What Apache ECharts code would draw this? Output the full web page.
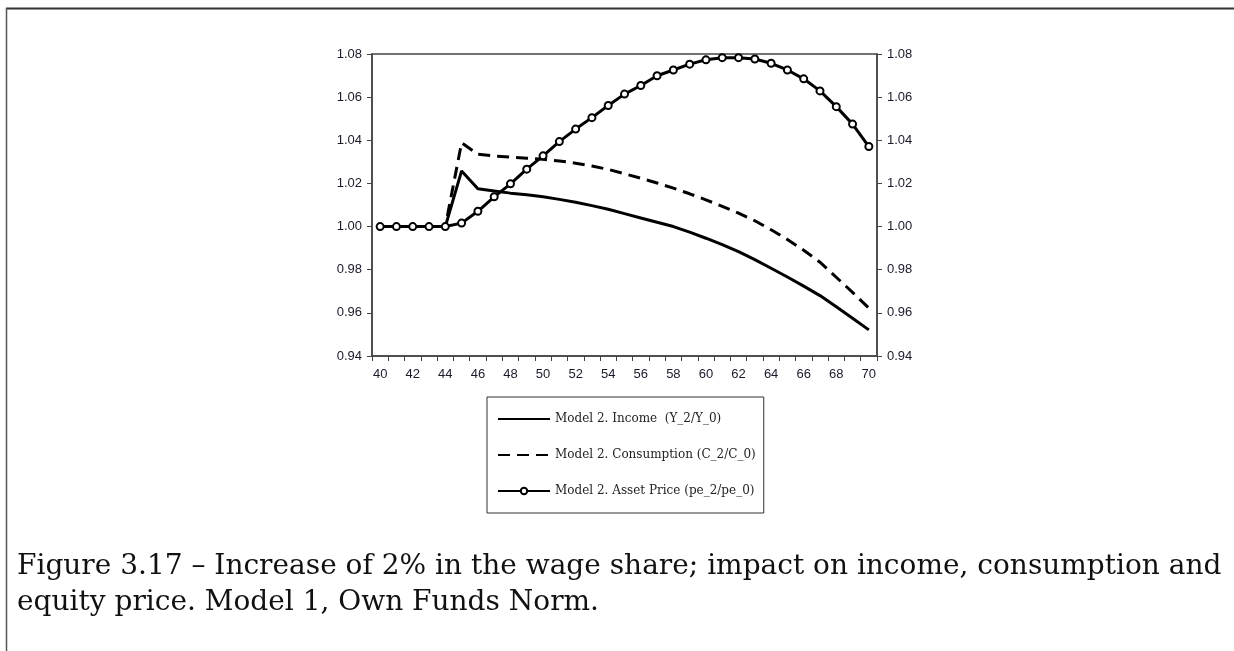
<!DOCTYPE html>
<html lang="en">
<head>
        <meta charset="UTF-8">
        <title>Figure 3.17</title>
        <style>
                html, body { margin: 0; padding: 0; background: #fff; }
                #chart { width: 1234px; height: 651px; }
        </style>
</head>
<body>
<div id="chart"></div>

<script src="https://cdn.jsdelivr.net/npm/echarts@6/dist/echarts.min.js"></script>
<script>

        // years on the x axis
        var years = [];
        for (var y = 40; y <= 70; y++) { years.push(String(y)); }

        // Model 2. Income (Y_2/Y_0)
        var income = [1.000, 1.000, 1.000, 1.000, 1.000, 1.0258, 1.0175, 1.0165, 1.0155, 1.0147,
                1.0138, 1.0126, 1.0113, 1.0097, 1.0080, 1.0060, 1.0040, 1.0020, 1.0000, 0.9974,
                0.9946, 0.9916, 0.9884, 0.9847, 0.9807, 0.9766, 0.9724, 0.9680, 0.9628, 0.9575, 0.9521];

        // Model 2. Consumption (C_2/C_0)
        var consumption = [1.000, 1.000, 1.000, 1.000, 1.000, 1.0389, 1.0335, 1.0327, 1.0322, 1.0317,
                1.0312, 1.0304, 1.0294, 1.0281, 1.0265, 1.0245, 1.0224, 1.0202, 1.0178, 1.0152,
                1.0124, 1.0094, 1.0062, 1.0027, 0.9985, 0.9940, 0.9890, 0.9835, 0.9765, 0.9695, 0.9622];

        // Model 2. Asset Price (pe_2/pe_0)
        var assetPrice = [1.000, 1.000, 1.000, 1.000, 1.000, 1.0016, 1.0071, 1.0138, 1.0198, 1.0266,
                1.0328, 1.0394, 1.0452, 1.0505, 1.0561, 1.0614, 1.0654, 1.0699, 1.0726, 1.0753,
                1.0773, 1.0783, 1.0783, 1.0777, 1.0757, 1.0726, 1.0685, 1.0629, 1.0556, 1.0475, 1.0371];

        var seriesNames = ['Model 2. Income  (Y_2/Y_0)', 'Model 2. Consumption (C_2/C_0)', 'Model 2. Asset Price (pe_2/pe_0)'];

        var captionLines = ['Figure 3.17 – Increase of 2% in the wage share; impact on income, consumption and',
                'equity price. Model 1, Own Funds Norm.'];

        var myChart = echarts.init(document.getElementById('chart'));

        var axisText = { fontFamily: 'Liberation Sans, Arial, sans-serif', fontSize: 13, color: '#1a1a2a' };

        function yAxis(pos) {
                return {
                        type: 'value',
                        position: pos,
                        min: 0.94,
                        max: 1.08,
                        interval: 0.02,
                        splitLine: { show: false },
                        axisLine: { show: true, lineStyle: { color: '#444', width: 1.5 } },
                        axisTick: { show: true, length: 5, lineStyle: { color: '#444' } },
                        axisLabel: Object.assign({ margin: 10, formatter: function (v) { return v.toFixed(2); } }, axisText)
                };
        }

        var option = {
                animation: false,
                backgroundColor: '#fff',
                title: {
                        text: captionLines.join('\n'),
                        left: 12,
                        top: 544,
                        textStyle: {
                                fontFamily: 'DejaVu Serif, serif',
                                fontWeight: 'normal',
                                fontSize: 28,
                                lineHeight: 36,
                                color: '#111'
                        }
                },
                graphic: [
                        { type: 'line', shape: { x1: 6, y1: 8.5, x2: 1234, y2: 8.5 }, style: { stroke: '#333', lineWidth: 2 } },
                        { type: 'line', shape: { x1: 6.5, y1: 8, x2: 6.5, y2: 651 }, style: { stroke: '#555', lineWidth: 1.5 } }
                ],
                grid: {
                        left: 372,
                        right: 357,
                        top: 54,
                        bottom: 295,
                        show: true,
                        borderColor: '#444',
                        borderWidth: 1.5
                },
                legend: {
                        orient: 'vertical',
                        left: 487,
                        top: 397,
                        padding: [16, 8, 16, 10],
                        itemGap: 24,
                        itemWidth: 52,
                        itemHeight: 8,
                        borderColor: '#333',
                        borderWidth: 1,
                        backgroundColor: '#fff',
                        textStyle: { fontFamily: 'DejaVu Serif, serif', fontSize: 12, color: '#222' },
                        data: [
                                { name: seriesNames[0], itemStyle: { opacity: 0 } },
                                { name: seriesNames[1], itemStyle: { opacity: 0 } },
                                { name: seriesNames[2] }
                        ]
                },
                xAxis: {
                        type: 'category',
                        data: years,
                        boundaryGap: true,
                        axisLine: { show: true, lineStyle: { color: '#444', width: 1.5 } },
                        axisTick: { show: true, interval: 0, length: 5, lineStyle: { color: '#444' } },
                        axisLabel: Object.assign({ interval: 1, margin: 12 }, axisText)
                },
                yAxis: [yAxis('left'), yAxis('right')],
                series: [
                        {
                                name: seriesNames[0],
                                type: 'line',
                                data: income,
                                symbol: 'none',
                                lineStyle: { color: '#000', width: 3 },
                                itemStyle: { color: '#000' }
                        },
                        {
                                name: seriesNames[1],
                                type: 'line',
                                data: consumption,
                                symbol: 'none',
                                lineStyle: { color: '#000', width: 3, type: [12, 7] },
                                itemStyle: { color: '#000' }
                        },
                        {
                                name: seriesNames[2],
                                type: 'line',
                                data: assetPrice,
                                symbol: 'circle',
                                symbolSize: 7,
                                showSymbol: true,
                                lineStyle: { color: '#000', width: 3 },
                                itemStyle: { color: '#fff', borderColor: '#000', borderWidth: 2 }
                        }
                ]
        };

        myChart.setOption(option);

</script>
</body>
</html>
